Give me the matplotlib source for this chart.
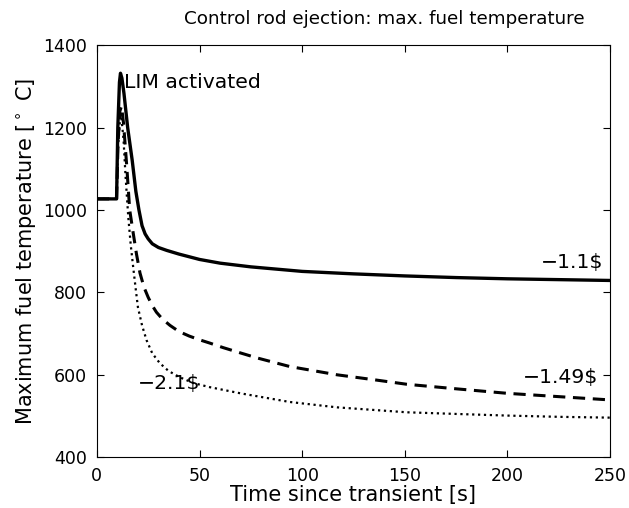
from matplotlib import pyplot as plt

plt.rcParams['font.family'] = ['DejaVu Sans']

# (time in s, temperature in deg C)
t_11 = [0, 9.6, 10.2, 11, 11.5, 12.2, 13.2, 15, 17.2, 19, 20.5, 22, 23.5, 25, 27, 30, 34, 40,
        50, 60, 75, 100, 125, 150, 175, 200, 225, 250]
T_11 = [1027, 1027, 1200, 1310, 1332, 1320, 1283, 1200, 1121, 1045, 1000, 962, 942, 930, 918,
        909, 902, 893, 880, 871, 862, 851, 845, 840, 836, 833, 831, 829]

t_149 = [0, 9.6, 10.3, 11.2, 12, 13, 14.5, 16, 17.7, 19.3, 21, 23, 25, 27, 29, 32, 35.6, 40,
         45, 50, 55, 61.5, 70, 78, 94, 117, 135, 151, 175, 200, 225, 250]
T_149 = [1027, 1027, 1160, 1240, 1252, 1210, 1110, 1000, 944, 893, 847, 812, 788, 768, 752,
         735, 720, 705, 694, 685, 677, 666, 653, 641, 620, 600, 588, 577, 566, 555, 547, 539]

t_21 = [0, 9.6, 10.3, 11.2, 12, 13, 14, 15.3, 16.5, 17.7, 19, 20, 22, 24.2, 27, 30.7, 35, 40.4,
        47, 55, 70, 94, 117, 151, 175, 200, 225, 250]
T_21 = [1027, 1027, 1150, 1215, 1222, 1170, 1080, 983, 915, 861, 805, 764, 720, 684, 652,
        628, 609, 594, 580, 570, 555, 534, 521, 509, 505, 501, 498, 496]

fig = plt.figure(figsize=(6.29, 5.08), dpi=100)
ax = fig.add_axes([0.154, 0.100, 0.816, 0.811])

ax.plot(t_21, T_21, 'k:', lw=1.6)
ax.plot(t_149, T_149, 'k--', lw=2.2, dashes=(4, 2.5))
ax.plot(t_11, T_11, 'k-', lw=2.4)

ax.text(13.4, 1310, 'LIM activated', fontsize=14.7, va='center', ha='left')
ax.text(246.6, 873, '\u22121.1$', fontsize=14.7, va='center', ha='right')
ax.text(244, 594, '\u22121.49$', fontsize=14.7, va='center', ha='right')
ax.text(20, 580, '\u22122.1$', fontsize=14.7, va='center', ha='left')

ax.set_xlim(0, 250)
ax.set_ylim(400, 1400)
ax.set_xticks([0, 50, 100, 150, 200, 250])
ax.set_yticks([400, 600, 800, 1000, 1200, 1400])
ax.tick_params(direction='in', top=True, right=True, labelsize=12.5, length=5, pad=7)
for s in ax.spines.values():
    s.set_linewidth(0.8)

ax.set_title('Control rod ejection: max. fuel temperature', fontsize=13.2, x=0.56, pad=15)
ax.set_xlabel('Time since transient [s]', fontsize=15, labelpad=0)
ax.set_ylabel('Maximum fuel temperature [$^\\circ$ C]', fontsize=15, labelpad=4)

fig.savefig('out.png', dpi=100)
